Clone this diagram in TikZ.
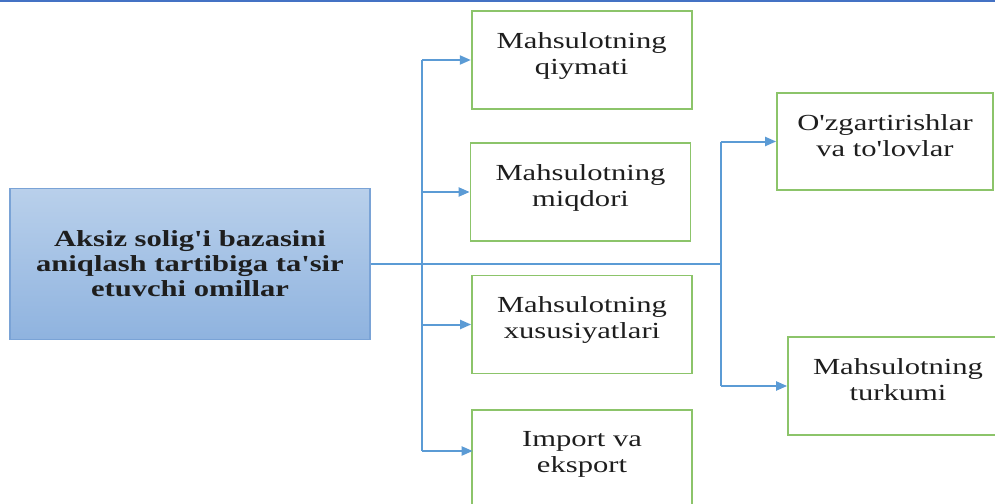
\documentclass[tikz,border=0pt]{standalone}
\usepackage{fontspec}
\newfontfamily\diafont[FakeStretch=1.33]{Liberation Serif}
\usetikzlibrary{arrows.meta,calc}
\definecolor{topblue}{HTML}{4472C4}
\definecolor{connblue}{HTML}{5B9BD5}
\definecolor{gboxc}{HTML}{8CC46A}
\definecolor{mainborder}{HTML}{7AA3D6}
\definecolor{maintop}{HTML}{B9D0EB}
\definecolor{mainbot}{HTML}{8FB3DF}
\definecolor{txt}{HTML}{1E1E1E}
\tikzset{
  gbox/.style={draw=gboxc, line width=1.7pt, rectangle, inner sep=0pt},
  gtext/.style={anchor=north, align=center, inner sep=0pt, text=txt,
    font=\diafont\fontsize{23}{26}\selectfont},
  mainbox/.style={draw=mainborder, line width=1.5pt, rectangle, inner sep=0pt,
    top color=maintop, bottom color=mainbot,
    minimum width=360pt, minimum height=151pt, align=center, text=txt,
    font=\diafont\bfseries\fontsize{23}{25}\selectfont},
  conn/.style={draw=connblue, line width=2pt},
  arr/.style={conn, -{Triangle[length=11pt,width=9pt]}},
}
\begin{document}
\begin{tikzpicture}[x=1pt,y=-1pt]
\useasboundingbox (0,0) rectangle (995,503);
\draw[topblue, line width=2.5pt] (0,1) -- (995,1);

\node[mainbox] (main) at (190,263.8) {Aksiz solig'i bazasini\\aniqlash tartibiga ta'sir\\etuvchi omillar};

\node[gbox, minimum width=220pt, minimum height=98pt] (b1) at (581.7,60) {};
\node[gbox, minimum width=220pt, minimum height=98pt] (b2) at (580.5,192) {};
\node[gbox, minimum width=220pt, minimum height=98pt] (b3) at (582,324.5) {};
\node[gbox, minimum width=220pt, minimum height=98pt] (b4) at (582,459) {};
\node[gbox, minimum width=216pt, minimum height=97pt] (b5) at (885,141.5) {};
\node[gbox, minimum width=220pt, minimum height=98pt] (b6) at (898,386) {};

\node[gtext] (t1) at ($(b1.north)+(0,22)$) {Mahsulotning\\qiymati};
\node[gtext] (t2) at ($(b2.north)+(0,22)$) {Mahsulotning\\miqdori};
\node[gtext] (t3) at ($(b3.north)+(0,22)$) {Mahsulotning\\xususiyatlari};
\node[gtext] (t4) at ($(b4.north)+(0,22)$) {Import va\\eksport};
\node[gtext] (t5) at ($(b5.north)+(0,22)$) {O'zgartirishlar\\va to'lovlar};
\node[gtext] (t6) at ($(b6.north)+(0,22)$) {Mahsulotning\\turkumi};

\coordinate (k1) at (422,0);
\coordinate (k2) at (720.5,0);
\coordinate (a4) at (472.7,451);

\draw[conn] (main.east) -- (main.east -| k2);
\draw[conn] (k1 |- b1.west) -- (k1 |- a4);
\draw[conn] (k2 |- b5.west) -- (k2 |- b6.west);

\draw[arr] (k1 |- b1.west) -- (b1.west);
\draw[arr] (k1 |- b2.west) -- (b2.west);
\draw[arr] (k1 |- b3.west) -- (b3.west);
\draw[arr] (k1 |- a4) -- (a4);
\draw[arr] (k2 |- b5.west) -- (b5.west);
\draw[arr] (k2 |- b6.west) -- (b6.west);
\end{tikzpicture}
\end{document}
